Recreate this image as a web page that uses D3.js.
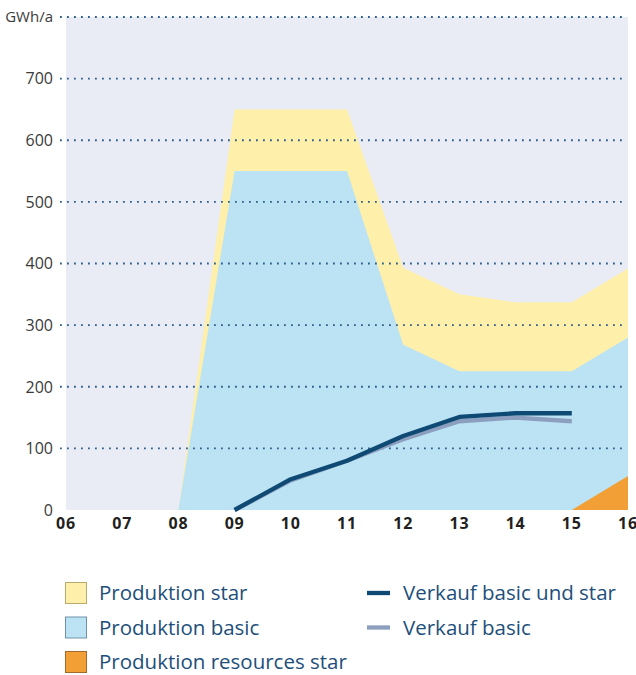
<!DOCTYPE html>
<html>
<head>
<meta charset="utf-8">
<script src="https://cdn.jsdelivr.net/npm/d3@7"></script>
<style>
  body { margin: 0; background: #fff; }
  text { font-family: "Open Sans", sans-serif; }
</style>
</head>
<body>
<svg id="chart"></svg>
<script>
var W = 636,
  H = 675,
  PLOT_L = 66,
  PLOT_R = 628,
  PLOT_T = 17,
  PLOT_B = 510;

// data
var years = ["06", "07", "08", "09", "10", "11", "12", "13", "14", "15", "16"];
var prodBasic = [null, null, 0, 550, 550, 550, 268, 225, 225, 225, 280];
var prodStarExtra = [null, null, 0, 100, 100, 100, 125, 125, 112, 112, 112];
var prodResources = [null, null, null, null, null, null, null, null, null, 0, 55];
var salesTotal = [null, null, null, 0, 50, 80, 120, 151, 157, 157, null];
var salesBasic = [null, null, null, 0, 48, 80, 115, 144, 150, 144, null];
var yTicks = [100, 200, 300, 400, 500, 600, 700, 800];

var svg = d3.select('#chart')
  .attr('width', W)
  .attr('height', H);

svg.append('rect')
  .attr('width', W).attr('height', H)
  .attr('fill', '#fff');

var x = d3.scalePoint()
  .domain(years)
  .range([PLOT_L, PLOT_R]);

var y = d3.scaleLinear()
  .domain([0, 800])
  .range([PLOT_B, PLOT_T]);

// plot background
svg.append('rect')
  .attr('x', PLOT_L)
  .attr('y', y(800))
  .attr('width', PLOT_R - PLOT_L)
  .attr('height', y(0) - y(800))
  .attr('fill', '#e9ebf5');

var rows = years.map(function(d, i) {
  return {
    year: d,
    basic: prodBasic[i],
    star: prodStarExtra[i] == null ? null : prodBasic[i] + prodStarExtra[i],
    res: prodResources[i],
    total: salesTotal[i],
    sb: salesBasic[i]
  };
});

function areaOf(key, color) {
  var a = d3.area()
    .defined(function(d) { return d[key] != null; })
    .x(function(d) { return x(d.year); })
    .y0(y(0))
    .y1(function(d) { return y(d[key]); });
  svg.append('path')
    .datum(rows)
    .attr('d', a)
    .attr('fill', color);
}

areaOf('star', '#feefab');
areaOf('basic', '#bbe3f3');
areaOf('res', '#f29f36');

// dotted grid
var grid = svg.append('g');
grid.selectAll('line')
  .data(yTicks)
  .enter()
  .append('line')
  .attr('x1', 60)
  .attr('x2', 626)
  .attr('y1', function(d) { return y(d); })
  .attr('y2', function(d) { return y(d); })
  .attr('stroke', '#2d5f8c')
  .attr('stroke-width', 1.8)
  .attr('stroke-dasharray', '1.8,5.2');

function lineOf(key, color) {
  var l = d3.line()
    .defined(function(d) { return d[key] != null; })
    .x(function(d) { return x(d.year); })
    .y(function(d) { return y(d[key]); });
  svg.append('path')
    .datum(rows)
    .attr('d', l)
    .attr('fill', 'none')
    .attr('stroke', color)
    .attr('stroke-width', 4.3)
    .attr('stroke-linejoin', 'round');
}

lineOf('sb', '#8c9fbf');
lineOf('total', '#0e4a73');

// y labels
var yLabels = [0].concat(yTicks);
svg.append('g').selectAll('text')
  .data(yLabels)
  .enter()
  .append('text')
  .attr('x', 53)
  .attr('y', function(d) { return y(d); })
  .attr('dy', '0.36em')
  .attr('text-anchor', 'end')
  .attr('font-size', function(d) { return d == 800 ? 15 : 16; })
  .attr('fill', '#3a3a3a')
  .text(function(d) { return d == 800 ? 'GWh/a' : d; });

// x labels
svg.append('g').selectAll('text')
  .data(years)
  .enter()
  .append('text')
  .attr('x', function(d) { return x(d); })
  .attr('y', 529)
  .attr('text-anchor', 'middle')
  .attr('font-size', 16)
  .attr('font-weight', 'bold')
  .attr('letter-spacing', 0.8)
  .attr('fill', '#231f20')
  .text(function(d) { return d; });

// legend
var boxes = [
  { label: 'Produktion star', fill: '#feefab', stroke: '#b9ab6e' },
  { label: 'Produktion basic', fill: '#bbe3f3', stroke: '#6f93ab' },
  { label: 'Produktion resources star', fill: '#f29f36', stroke: '#9e6a30' }
];
var lines = [
  { label: 'Verkauf basic und star', color: '#0e4a73' },
  { label: 'Verkauf basic', color: '#8c9fbf' }
];

var lg = svg.append('g');
boxes.forEach(function(b, i) {
  var cy = 593 + i * 34.5;
  lg.append('rect')
    .attr('x', 65.5).attr('y', cy - 10.5)
    .attr('width', 21).attr('height', 21)
    .attr('fill', b.fill)
    .attr('stroke', b.stroke);
  lg.append('text')
    .attr('x', 99).attr('y', cy)
    .attr('dy', '0.35em')
    .attr('font-size', 20.5)
    .attr('fill', '#1d4f7a')
    .text(b.label);
});
lines.forEach(function(l, i) {
  var cy = 593 + i * 34.5;
  lg.append('line')
    .attr('x1', 367).attr('x2', 390)
    .attr('y1', cy).attr('y2', cy)
    .attr('stroke', l.color)
    .attr('stroke-width', 4.3);
  lg.append('text')
    .attr('x', 403).attr('y', cy)
    .attr('dy', '0.35em')
    .attr('font-size', 20.5)
    .attr('fill', '#1d4f7a')
    .text(l.label);
});
</script>
</body>
</html>
